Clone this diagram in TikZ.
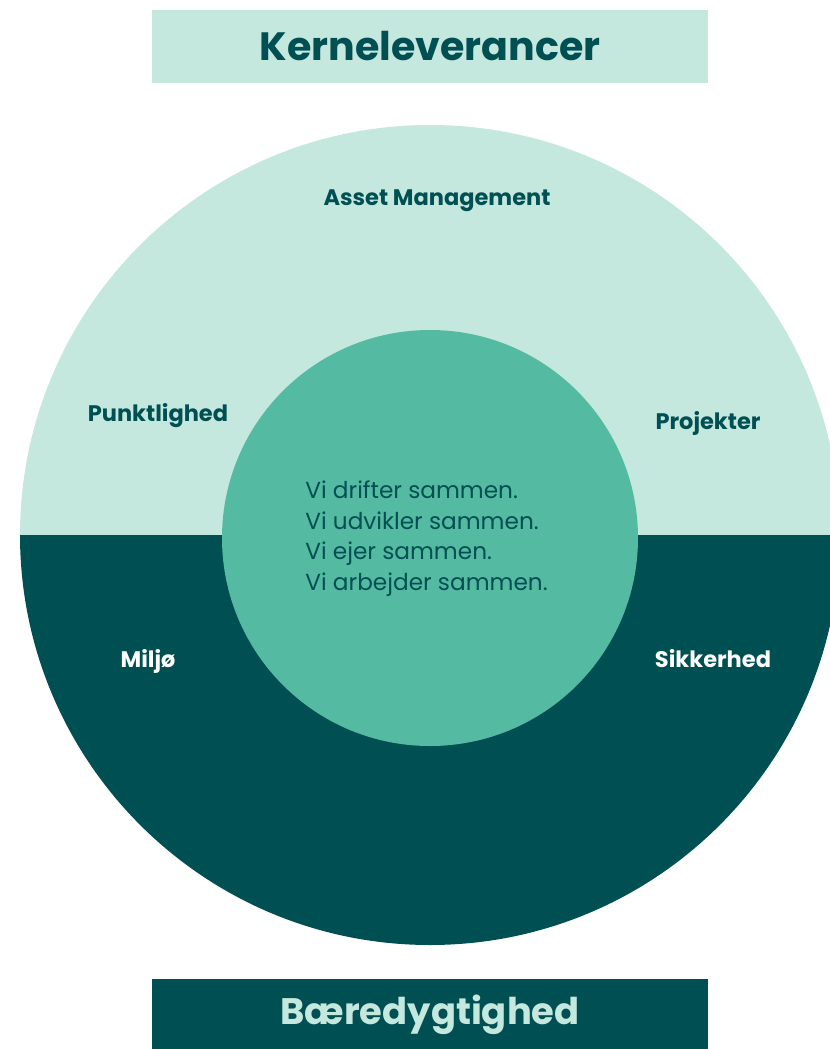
\documentclass[tikz,border=0pt]{standalone}
\usepackage{fontspec}
\setmainfont{Poppins}
\usepackage{xcolor}
\usepackage{tikz}
\definecolor{lightmint}{HTML}{C4E7DE}
\definecolor{midmint}{HTML}{55BAA2}
\definecolor{deepteal}{HTML}{004F52}
\tikzstyle{titlebox} = [rectangle, minimum width=11.12cm, minimum height=1.46cm, text centered, font=\bfseries\fontsize{22.5}{26}\selectfont]
\tikzstyle{ringlabel} = [text=deepteal, font=\bfseries\fontsize{12.8}{15}\selectfont]
\tikzstyle{darklabel} = [text=white, font=\bfseries\fontsize{12.8}{15}\selectfont]
\tikzstyle{coretext} = [text=deepteal, align=left, font=\fontsize{13.2}{17.6}\selectfont]

\begin{document}
\begin{tikzpicture}
    \useasboundingbox (0,0) rectangle (16.6,-20.98);
    \begin{scope}
    \clip (0,0) rectangle (16.6,-20.98);
    % outer ring, two halves
    \fill [lightmint] (0.4,-10.7) arc (180:0:8.2) -- cycle;
    \fill [deepteal] (0.4,-10.7) arc (180:360:8.2) -- cycle;
    \end{scope}
    \node (core) [circle, fill=midmint, minimum size=8.32cm] at (8.6,-10.76) {};

    \node (top) [titlebox, fill=lightmint, text=deepteal] at (8.6,-0.93) {Kerneleverancer};
    \node (bottom) [titlebox, fill=deepteal, text=lightmint, font=\bfseries\fontsize{21}{25}\selectfont] at (8.6,-20.3) {Bæredygtighed};

    \node (asset) [ringlabel] at (8.74,-4.02) {Asset Management};
    \node (punkt) [ringlabel] at (3.16,-8.32) {Punktlighed};
    \node (proj) [ringlabel] at (14.16,-8.46) {Projekter};
    \node (miljo) [darklabel] at (2.96,-13.22) {Miljø};
    \node (sikker) [darklabel] at (14.26,-13.18) {Sikkerhed};

    \node (motto) [coretext, anchor=north west, inner sep=0pt] at (6.1,-9.6) {Vi drifter sammen.\\Vi udvikler sammen.\\Vi ejer sammen.\\Vi arbejder sammen.};
\end{tikzpicture}
\end{document}
